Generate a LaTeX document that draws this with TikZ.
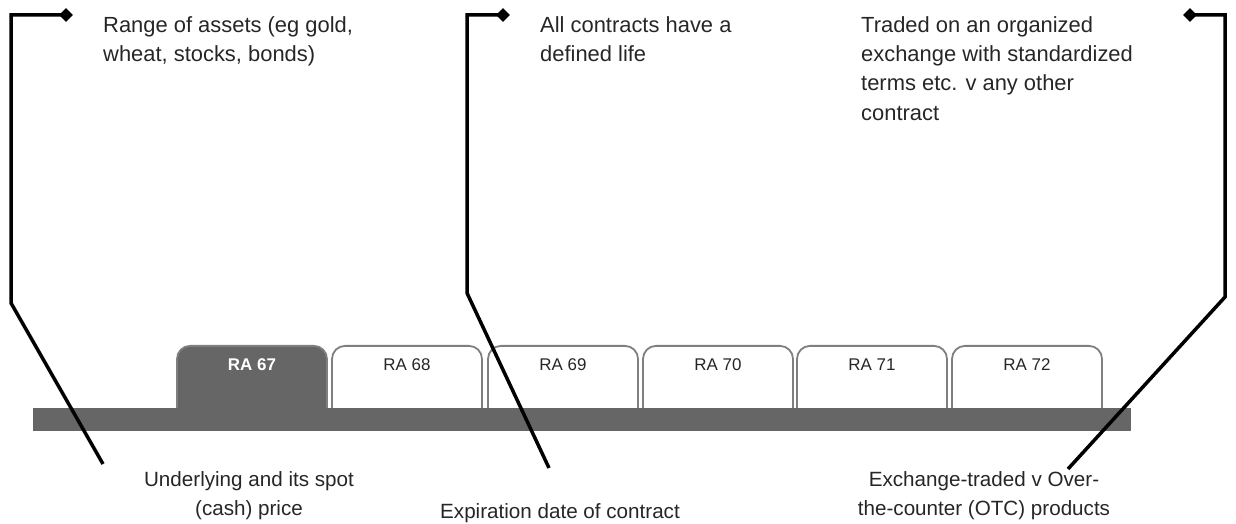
\documentclass[tikz,border=0pt]{standalone}
\usepackage{fontspec}
\setmainfont{Liberation Sans}
\usetikzlibrary{shapes.geometric}
\definecolor{txt}{HTML}{262626}
\definecolor{bargray}{HTML}{666666}
\definecolor{tabline}{HTML}{7F7F7F}
\begin{document}
\begin{tikzpicture}[x=1bp,y=-1bp,
  note/.style={inner sep=0pt, text=txt, font=\fontsize{22}{29.5}\selectfont, align=left, anchor=north west},
  bnote/.style={inner sep=0pt, text=txt, font=\fontsize{20.7}{29}\selectfont, align=center},
  tabbox/.style={draw=tabline, line width=1.8bp, fill=white, rounded corners=13bp,
    minimum width=150bp, inner xsep=0pt, inner ysep=0pt, text height=25bp, text depth=50bp,
    font=\fontsize{17}{19}\selectfont, anchor=north, text=txt},
  seltab/.style={tabbox, fill=bargray, text=white, font=\bfseries\fontsize{17}{19}\selectfont},
  barbox/.style={fill=bargray, inner sep=0pt, minimum width=1098bp, minimum height=23bp},
  callout/.style={line width=3.5bp, black, line join=miter},
  dia/.style={diamond, fill=black, inner sep=0pt, minimum width=14bp, minimum height=14bp},
]
\useasboundingbox (0,0) rectangle (1236,524);
% tabs
\node[seltab] (t67) at (252,345) {RA 67};
\node[tabbox] (t68) at (407,345) {RA 68};
\node[tabbox] (t69) at (563,345) {RA 69};
\node[tabbox] (t70) at (718,345) {RA 70};
\node[tabbox] (t71) at (872,345) {RA 71};
\node[tabbox] (t72) at (1027,345) {RA 72};
% bar
\node[barbox] (bar) at (582,419.5) {};
% texts
\node[note] (n1) at (103,16) {Range of assets (eg gold,\\wheat, stocks, bonds)};
\node[note] (n2) at (540,16) {All contracts have a\\defined life};
\node[note] (n3) at (861,16) {Traded on an organized\\exchange with standardized\\terms etc. v any other\\contract};
\node[bnote, anchor=north] (b1) at (249,471) {Underlying and its spot\\(cash) price};
\node[bnote, anchor=base] (b2) at (560,518) {Expiration date of contract};
\node[bnote, anchor=north] (b3) at (984,471) {Exchange-traded v Over-\\the-counter (OTC) products};
% callouts
\node[dia] (d1) at (66,15) {};
\coordinate (c1a) at (11,15);
\coordinate (c1b) at (11,303);
\coordinate (c1e) at (103,464);
\draw[callout] (d1.center) -- (c1a) -- (c1b) -- (c1e);
\node[dia] (d2) at (503,15) {};
\coordinate (c2a) at (467,15);
\coordinate (c2b) at (467,293);
\coordinate (c2e) at (549,468);
\draw[callout] (d2.center) -- (c2a) -- (c2b) -- (c2e);
\node[dia] (d3) at (1190,15) {};
\coordinate (c3a) at (1225,15);
\coordinate (c3b) at (1225,297);
\coordinate (c3e) at (1068,469);
\draw[callout] (d3.center) -- (c3a) -- (c3b) -- (c3e);
\end{tikzpicture}
\end{document}
